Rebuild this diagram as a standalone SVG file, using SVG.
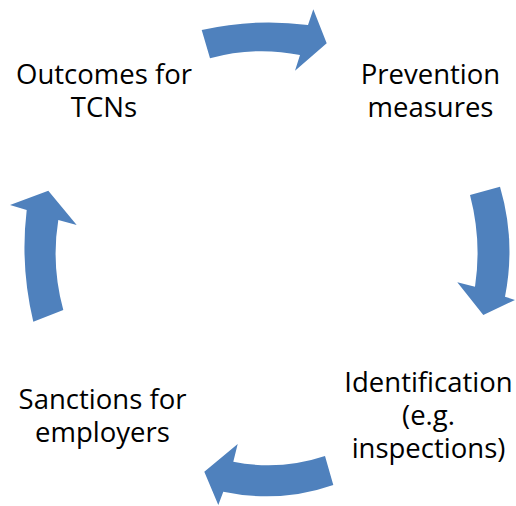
<svg xmlns="http://www.w3.org/2000/svg" width="516" height="506" viewBox="0 0 516 506">
<style>
.lbl{font-family:"Open Sans","Liberation Sans",sans-serif;font-size:27.5px;fill:#000;text-anchor:middle}
.arr{fill:#4F81BD}
</style>
<rect width="516" height="506" fill="#fff"/>
<g id="connectors">
<path class="arr" d="M201.7,30 Q255,18 308,25 L313.3,9.3 L326.7,43.3 L295,70.7 L300,55 Q255,46 210,58.3 Z"/>
<path class="arr" d="M470,195 L500,186.7 Q516,241 505,296.7 L515,300 L483.3,315 L457.3,282.3 L475,286.7 Q482,241 470,195 Z"/>
<path class="arr" d="M325,456 Q280,471 233.3,461.7 L237.7,444 L204.3,471.7 L218.3,505 L223.3,491.7 Q280,503.6 333.3,485 Z"/>
<path class="arr" d="M33.3,321.7 L63.3,310 Q51,265 58.3,220 L76.7,225 L48.3,190.7 L10,205 L26.7,210 Q20,266 33.3,321.7 Z"/>
</g>
<g id="outcomes"><text class="lbl" x="104" y="84">Outcomes for</text><text class="lbl" x="104" y="117">TCNs</text></g>
<g id="prevention"><text class="lbl" x="430.5" y="84">Prevention</text><text class="lbl" x="430.5" y="117">measures</text></g>
<g id="identification"><text class="lbl" x="428.5" y="392">Identification</text><text class="lbl" x="428.5" y="425">(e.g.</text><text class="lbl" x="428.5" y="458">inspections)</text></g>
<g id="sanctions"><text class="lbl" x="102.5" y="408.5">Sanctions for</text><text class="lbl" x="102.5" y="441.5">employers</text></g>
</svg>
